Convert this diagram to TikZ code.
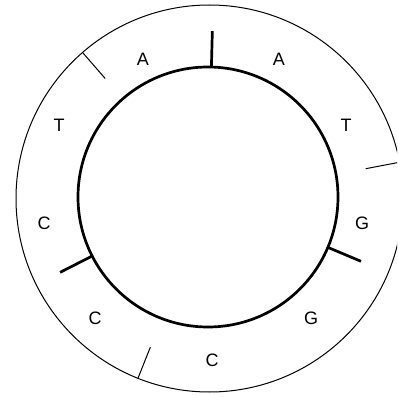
\documentclass[tikz,border=0pt]{standalone}
\usepackage{fontspec}
\setmainfont{Liberation Sans}
\begin{document}
\begin{tikzpicture}[x=1pt,y=1pt,
  thin line/.style={line width=1pt},
  thick line/.style={line width=2.7pt},
  base/.style={font=\fontsize{18}{18}\selectfont, inner sep=0pt}]
\useasboundingbox (0,0) rectangle (397,397);
\begin{scope}
\clip (0,0) rectangle (397,397);
\coordinate (o) at (209.5,198.5);
\coordinate (i) at (208,200);
% outer circle
\draw[thin line] (o) circle (193.5);
% inner circle
\draw[thick line] (i) circle (130);
% thick ticks
\draw[thick line] ([shift={(88.5:130)}]i) -- ([shift={(88.5:166)}]i);
\draw[thick line] ([shift={(-22.8:129)}]i) -- ([shift={(-22.8:166)}]i);
\draw[thick line] ([shift={(207:129)}]i) -- ([shift={(207:166)}]i);
% thin ticks
\draw[thin line] ([shift={(131:159)}]o) -- ([shift={(131:193.5)}]o);
\draw[thin line] ([shift={(10.8:159)}]o) -- ([shift={(10.8:193.5)}]o);
\draw[thin line] ([shift={(248.3:160)}]o) -- ([shift={(248.3:193.5)}]o);
\end{scope}
% letters
\node[base] (a1) at (143,338) {A};
\node[base] (a2) at (279,338) {A};
\node[base] (t1) at (59,272) {T};
\node[base] (t2) at (346,272) {T};
\node[base] (c1) at (44,174) {C};
\node[base] (g1) at (362,174) {G};
\node[base] (c2) at (95,79) {C};
\node[base] (g2) at (311,79) {G};
\node[base] (c3) at (212,37) {C};
\end{tikzpicture}
\end{document}
